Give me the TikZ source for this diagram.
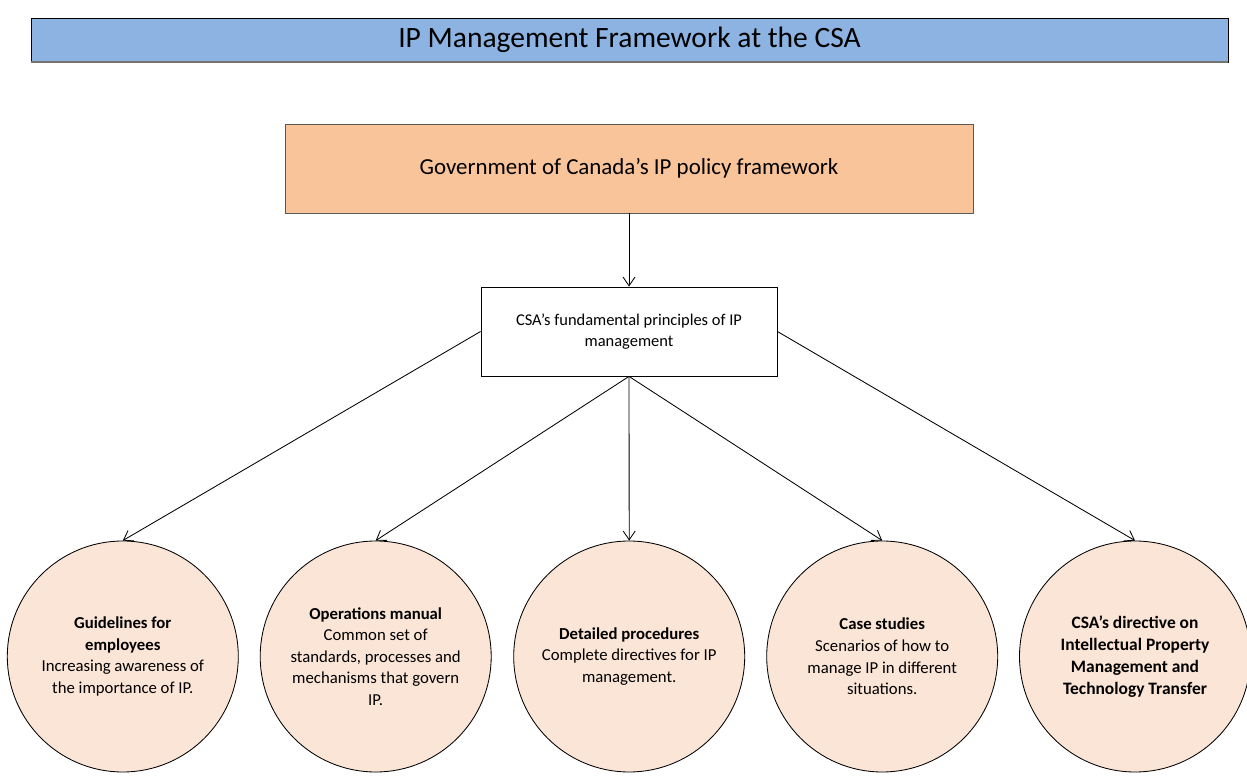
\documentclass[tikz,border=0pt]{standalone}
\usepackage{fontspec}
\setmainfont{Carlito}
\usetikzlibrary{arrows.meta}
\definecolor{titleblue}{HTML}{8DB3E2}
\definecolor{policyorange}{HTML}{F9C499}
\definecolor{toolpeach}{HTML}{FBE5D6}

\begin{document}
\begin{tikzpicture}[x=1cm,y=1cm,line width=.6pt,
  >={Straight Barb[length=.22cm,width=.3cm]},
  tool/.style={circle,draw,fill=toolpeach,minimum size=5.775cm,inner sep=0pt,align=center,
    font=\fontsize{11.9}{15.4}\selectfont}]
\useasboundingbox (0,0) rectangle (31.175,19.425);
% heading bar
\node[draw,fill=titleblue,minimum width=29.925cm,minimum height=1.1cm,inner sep=0pt,
  font=\fontsize{21}{25}\selectfont] (title) at (15.7375,18.425) {IP Management Framework at the CSA};
\draw[black!55,line width=1.3pt] (title.south west)--(title.south east);
% policy and principles
\node[draw=black!65,fill=policyorange,minimum width=17.2cm,minimum height=2.225cm,inner sep=0pt,
  font=\fontsize{16.3}{19}\selectfont] (policy) at (15.725,15.2125) {Government of Canada’s IP policy framework};
\node[draw,fill=white,minimum width=7.4cm,minimum height=2.225cm,inner sep=0pt,align=center,
  font=\fontsize{11.7}{15}\selectfont] (principles) at (15.725,11.1375) {CSA’s fundamental principles of IP\\management};
% the five tools
\node[tool] (guide) at (3.07,3.0125) {\textbf{Guidelines for}\\\textbf{employees}\\Increasing awareness of\\the importance of IP.};
\node[tool] (manual) at (9.3925,3.0125) {\textbf{Operations manual}\\Common set of\\standards, processes and\\mechanisms that govern\\IP.};
\node[tool] (proc) at (15.73,3.0125) {\textbf{Detailed procedures}\\Complete directives for IP\\management.};
\node[tool] (cases) at (22.055,3.0125) {\textbf{Case studies}\\Scenarios of how to\\manage IP in different\\situations.};
\node[tool,font=\fontsize{12.4}{15.6}\selectfont\bfseries] (directive) at (28.375,3.0125) {CSA’s directive on\\Intellectual Property\\Management and\\Technology Transfer};
% connectors
\draw[->] (policy.south)--(principles.north);
\draw[->] (principles.west)--(guide.north);
\draw[->] (principles.south)--(manual.north);
\draw[->] (principles.south)--(proc.north);
\draw[->] (principles.south)--(cases.north);
\draw[->] (principles.east)--(directive.north);
\end{tikzpicture}
\end{document}
